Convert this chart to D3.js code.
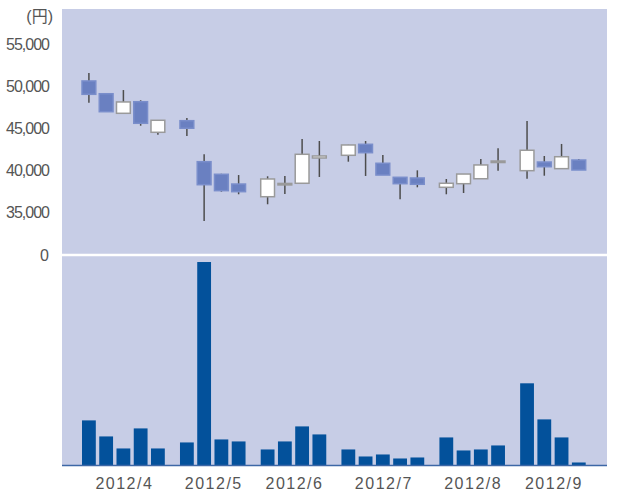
<!DOCTYPE html>
<html>
<head>
<meta charset="utf-8">
<script src="https://cdn.jsdelivr.net/npm/d3@7"></script>
<style>
  body { margin: 0; background: #fff; }
  text { font-family: "Liberation Sans", Arial, "Noto Sans CJK JP", sans-serif; fill: #555; }
</style>
</head>
<body>
<div id="chart"></div>
<script>
// weekly candles, Apr - Sep 2012
const weeks  = ['4/2','4/9','4/16','4/23','4/30','5/7','5/14','5/21','5/28','6/4','6/11','6/18','6/25',
                '7/2','7/9','7/16','7/23','7/30','8/6','8/13','8/20','8/27','9/3','9/10','9/18','9/24'];
const monthOf = [0,0,0,0,0,1,1,1,1,2,2,2,2,3,3,3,3,3,4,4,4,4,5,5,5,5];
const months = ['2012/4','2012/5','2012/6','2012/7','2012/8','2012/9'];

const open  = [50600,49080,46750,48130,44490,45870,40990,39490,38330,36820,38300,38420,41430,41750,43060,40800,39130,39050,37940,38370,38960,41000,39920,40950,40160,41190];
const close = [49010,46940,48100,45560,45920,44970,38250,37540,37420,38930,38400,41870,41670,42980,42060,39400,38370,38300,38420,39520,40600,41070,42350,40390,41580,40000];
const high  = [51550,49150,49520,48300,45920,46190,41870,39550,39400,39250,39290,43690,43450,43000,43450,41790,39130,39960,38930,39520,41310,42580,45830,41670,43100,41310];
const low   = [48010,46900,46750,45270,44200,44050,33930,37420,37110,35920,37140,38420,39170,40990,39290,39400,36510,37940,37110,37260,38960,39920,38960,39320,40160,40000];
const volume = [450,290,170,370,170,230,2030,260,240,160,240,390,310,160,90,110,70,80,280,150,160,200,820,460,280,30];

const priceTicks = [55000,50000,45000,40000,35000];

const W = 617, H = 493;
const panel = {left: 62, right: 607, top: 9, bottom: 466};
const split = 255;    // white line between price and volume
const base = 465.5;   // volume baseline
const monthGap = 0.68; // extra slots between months
const barFrac = 0.8;

const svg = d3.select('#chart').append('svg')
  .attr('width', W).attr('height', H);

svg.append('rect')
  .attr('x', panel.left).attr('y', panel.top)
  .attr('width', panel.right - panel.left).attr('height', panel.bottom - panel.top)
  .attr('fill', '#c7cde6');

const slot = i => i + monthOf[i] * monthGap;
const lastSlot = slot(weeks.length - 1) + barFrac;
const x = d3.scaleLinear().domain([0, lastSlot]).range([82, 82 + 17.25 * lastSlot]);
const bw = x(barFrac) - x(0);

const y = d3.scaleLinear().domain([30000, 55000]).range([254, 44]);
const yv = d3.scaleLinear().domain([0, 2100]).range([base, split]);

// price axis labels
svg.append('g').selectAll('text').data(priceTicks).join('text')
  .attr('x', 49).attr('y', d => y(d)).attr('dy', '0.36em')
  .attr('text-anchor', 'end')
  .style('font-size', '16px').style('letter-spacing', '-1px')
  .text(d => d3.format(',')(d));

svg.append('text')
  .attr('x', 49).attr('y', split).attr('dy', '0.36em')
  .attr('text-anchor', 'end').style('font-size', '16px')
  .text('0');

svg.append('text')
  .attr('x', 53).attr('y', 22)
  .attr('text-anchor', 'end').style('font-size', '16px')
  .text('(円)');

// volume bars
svg.append('g').selectAll('rect').data(volume).join('rect')
  .attr('x', (d, i) => x(slot(i)))
  .attr('y', d => yv(d))
  .attr('width', bw)
  .attr('height', d => base - yv(d))
  .attr('fill', '#03519b');

svg.append('line')
  .attr('x1', panel.left).attr('x2', panel.right)
  .attr('y1', base).attr('y2', base)
  .attr('stroke', '#3d67a6').attr('stroke-width', 1.5);

svg.append('line')
  .attr('x1', panel.left).attr('x2', panel.right)
  .attr('y1', split).attr('y2', split)
  .attr('stroke', '#fff').attr('stroke-width', 2.5);

// candles
const candles = svg.append('g').selectAll('g').data(weeks).join('g');
candles.append('line')
  .attr('x1', (d, i) => x(slot(i)) + bw / 2)
  .attr('x2', (d, i) => x(slot(i)) + bw / 2)
  .attr('y1', (d, i) => y(high[i]))
  .attr('y2', (d, i) => y(low[i]))
  .attr('stroke', '#4d4d4d').attr('stroke-width', 1.5);
candles.append('rect')
  .attr('x', (d, i) => x(slot(i)))
  .attr('y', (d, i) => y(Math.max(open[i], close[i])))
  .attr('width', bw)
  .attr('height', (d, i) => Math.max(1.5, Math.abs(y(open[i]) - y(close[i]))))
  .attr('fill', (d, i) => close[i] < open[i] ? '#6a80c1' : '#fff')
  .attr('stroke', (d, i) => close[i] < open[i] ? '#7a8ecb' : '#9a9a9a')
  .attr('stroke-width', 1.5);

// month labels under each group
svg.append('g').selectAll('text').data(months).join('text')
  .attr('x', (d, m) => {
    const idx = d3.range(weeks.length).filter(i => monthOf[i] === m);
    return (x(slot(idx[0])) + x(slot(idx[idx.length - 1])) + bw) / 2 + 1;
  })
  .attr('y', 489)
  .attr('text-anchor', 'middle')
  .style('font-size', '16px').style('letter-spacing', '1.5px')
  .text(d => d);
</script>
</body>
</html>
